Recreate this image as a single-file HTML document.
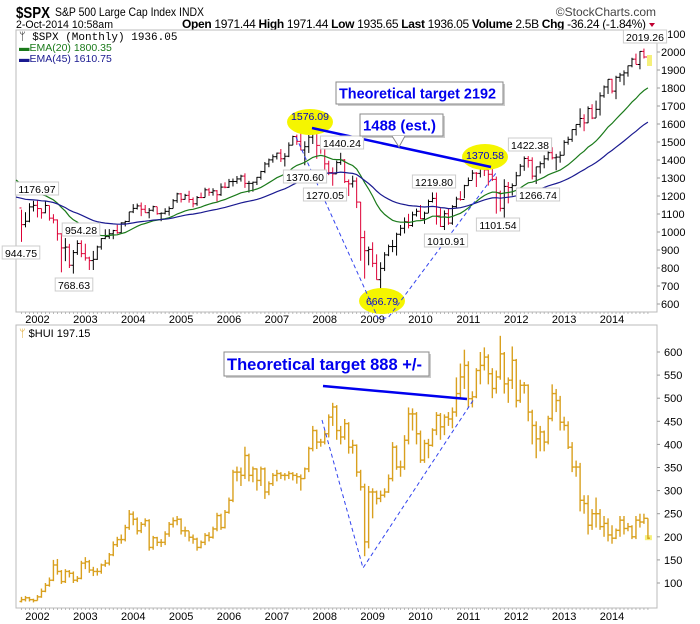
<!DOCTYPE html>
<html><head><meta charset="utf-8"><style>
html,body{margin:0;padding:0;background:#fff;}
svg{display:block;font-family:"Liberation Sans",sans-serif;}
</style></head><body>
<svg id="chart" width="700" height="624" viewBox="0 0 700 624" xmlns="http://www.w3.org/2000/svg">
<rect width="700" height="624" fill="#fff"/>
<g>
<text x="16" y="18" font-size="16" font-weight="bold" textLength="34" lengthAdjust="spacingAndGlyphs">$SPX</text>
<text x="55" y="16" font-size="12" textLength="149" lengthAdjust="spacingAndGlyphs">S&amp;P 500 Large Cap Index  INDX</text>
<text x="656" y="16" font-size="12" fill="#444" text-anchor="end">©StockCharts.com</text>
<text x="16" y="28" font-size="11" textLength="97" lengthAdjust="spacingAndGlyphs">2-Oct-2014 10:58am</text>
<text x="182" y="28" font-size="12" textLength="464"><tspan font-weight="bold">Open</tspan> 1971.44 <tspan font-weight="bold">High</tspan> 1971.44 <tspan font-weight="bold">Low</tspan> 1935.65 <tspan font-weight="bold">Last</tspan> 1936.05 <tspan font-weight="bold">Volume</tspan> 2.5B <tspan font-weight="bold">Chg</tspan> -36.24 (-1.84%)</text>
<path d="M649,23 L655,23 L652,27 Z" fill="#c00030"/>
</g>
<rect x="16" y="30" width="641" height="282" fill="none" stroke="#bbb"/>
<rect x="16" y="325" width="641" height="283" fill="none" stroke="#bbb"/>
<g id="axes"></g>
<g id="spx"></g>
<g id="hui"></g>
<g id="annot"></g>
</svg>
<script>
const years=["2002","2003","2004","2005","2006","2007","2008","2009","2010","2011","2012","2013","2014"];
const spxTicks=[600,700,800,900,1000,1100,1200,1300,1400,1500,1600,1700,1800,1900,2000,2100];
const huiTicks=[100,150,200,250,300,350,400,450,500,550,600];
const spxPrevClose=1133.58;
const spxClose=[1040.94,1059.78,1139.45,1148.08,
1130.20,1106.73,1147.39,1076.92,1067.14,989.82,911.62,916.07,815.28,885.76,936.31,879.82,
855.70,841.15,848.18,916.92,963.59,974.50,990.31,1008.01,995.97,1050.71,1058.20,1111.92,
1131.13,1144.94,1126.21,1107.30,1120.68,1140.84,1101.72,1104.24,1114.58,1130.20,1173.82,1211.92,
1181.27,1203.60,1180.59,1156.85,1191.50,1191.33,1234.18,1220.33,1228.81,1207.01,1249.48,1248.29,
1280.08,1280.66,1294.83,1310.61,1270.09,1270.20,1276.66,1303.82,1335.85,1377.94,1400.63,1418.30,
1438.24,1406.82,1420.86,1482.37,1530.62,1503.35,1455.27,1473.99,1526.75,1549.38,1481.14,1468.36,
1378.55,1330.63,1322.70,1385.59,1400.38,1280.00,1267.38,1282.83,1166.36,968.75,896.24,903.25,
825.88,735.09,797.87,872.81,919.14,919.32,987.48,1020.62,1057.08,1036.19,1095.63,1115.10,
1073.87,1104.49,1169.43,1186.69,1089.41,1030.71,1101.60,1049.33,1141.20,1183.26,1180.55,1257.64,
1286.12,1327.22,1325.83,1363.61,1345.20,1320.64,1292.28,1218.89,1131.42,1253.30,1246.96,1257.60,
1312.41,1365.68,1408.47,1397.91,1310.33,1362.16,1379.32,1406.58,1440.67,1412.16,1416.18,1426.19,
1498.11,1514.68,1569.19,1597.57,1630.74,1606.28,1685.73,1632.97,1681.55,1756.54,1805.81,1848.36,
1782.59,1859.45,1872.34,1883.95,1923.57,1960.23,1930.67,2003.37,1972.29,1936.05];
const spxHigh=[1124,1110,1160,1173,
1177,1131,1173,1147,1099,1070,994,966,934,900,954,954,
935,863,895,924,966,1015,1016,1012,1040,1054,1063,1112,
1155,1158,1164,1150,1133,1146,1140,1109,1132,1142,1183,1218,
1217,1212,1229,1192,1200,1219,1246,1245,1243,1233,1270,1276,
1295,1297,1311,1318,1326,1284,1280,1306,1340,1389,1408,1431,
1441,1461,1438,1498,1535,1541,1556,1504,1539,1576,1545,1523,
1471,1396,1359,1397,1440,1405,1292,1313,1303,1167,1007,919,
943,876,832,888,930,956,996,1039,1081,1101,1113,1130,
1150,1113,1180,1220,1219,1132,1120,1130,1149,1196,1227,1262,
1303,1344,1333,1366,1371,1346,1357,1308,1230,1293,1278,1270,
1334,1378,1420,1422,1415,1363,1392,1426,1475,1471,1434,1448,
1510,1530,1570,1598,1687,1654,1698,1710,1730,1776,1814,1849,
1851,1868,1884,1898,1925,1968,1991,2005,2019,1971];
const spxLow=[945,1026,1054,1114,
1081,1074,1104,1063,1048,952,776,838,800,769,873,860,
841,789,789,845,902,960,962,960,990,994,1031,1055,
1105,1125,1088,1107,1076,1113,1096,1060,1098,1091,1131,1162,
1164,1180,1163,1137,1146,1188,1192,1201,1202,1169,1201,1243,
1245,1253,1268,1280,1245,1219,1224,1261,1290,1327,1360,1385,
1403,1389,1364,1416,1482,1484,1454,1371,1439,1489,1407,1435,
1270,1316,1257,1324,1373,1272,1200,1247,1133,840,741,815,
805,735,667,783,866,888,869,979,992,1020,1029,1086,
1071,1045,1106,1164,1041,1028,1011,1040,1040,1133,1174,1187,
1257,1290,1250,1303,1311,1258,1283,1102,1114,1075,1159,1202,
1258,1312,1340,1358,1292,1267,1325,1354,1397,1403,1343,1385,
1426,1485,1501,1536,1581,1560,1605,1627,1634,1647,1746,1767,
1770,1738,1834,1815,1863,1915,1931,1904,1964,1936];
const ema20Seed=1289;
const ema45Seed=1194;
const huiPrevClose=60;
const huiClose=[64,68,64,62,70,82,95,106,139,125,
103,125,121,106,110,143,146,128,125,125,
139,143,161,183,194,194,220,249,238,213,
227,235,177,198,188,188,206,227,235,238,
213,213,199,195,177,188,203,199,217,246,
220,253,279,340,340,333,376,333,347,322,
347,297,315,333,337,333,333,337,333,330,
326,347,391,430,405,405,423,459,481,430,
416,445,394,398,340,308,189,297,297,283,
290,297,326,394,351,351,409,466,466,423,
366,402,398,431,463,438,459,455,470,510,
546,571,499,503,560,571,589,553,521,546,
596,531,539,582,495,528,528,470,441,412,
427,405,456,510,495,448,441,394,351,351,
279,272,225,250,250,222,229,204,197,214,
236,218,222,200,236,232,240,197];
const huiHigh=[70,72,70,66,74,88,100,112,150,152,
128,130,128,125,115,148,156,150,135,132,
142,150,165,190,200,205,226,258,255,242,
232,240,238,202,200,195,212,232,242,245,
240,222,212,205,198,192,208,210,222,252,
250,258,285,345,352,350,395,380,352,348,
352,350,320,338,345,340,338,342,340,338,
335,350,395,440,432,412,430,465,490,485,
440,455,448,410,400,345,315,310,305,300,
300,305,335,405,398,365,420,480,478,470,
430,410,412,435,470,468,465,470,480,545,
575,605,580,515,565,600,610,595,565,560,
635,600,545,612,585,540,535,530,475,450,
440,430,462,530,520,505,460,450,405,365,
360,290,290,260,285,260,245,240,225,218,
245,245,230,225,245,250,250,240];
const huiLow=[58,60,60,58,62,68,80,92,104,118,
98,100,112,100,102,108,130,122,115,116,
120,135,138,158,178,185,190,215,225,205,
208,222,170,172,180,178,182,200,220,225,
205,200,190,185,170,175,182,190,196,212,
215,218,250,275,320,310,325,320,318,300,
310,282,290,310,320,325,322,325,322,315,
300,325,340,385,390,395,400,415,440,410,
400,410,380,380,330,300,158,175,240,270,
275,285,295,320,345,330,345,400,430,400,
360,360,370,395,420,410,420,440,435,460,
500,520,480,480,500,530,560,530,500,510,
540,510,490,520,480,490,510,450,400,370,
385,385,400,450,470,430,430,390,340,330,
255,250,205,215,220,215,200,190,185,195,
200,205,212,195,195,220,228,195];

const NS="http://www.w3.org/2000/svg";
function xm(i){return 21.5+i*3.99;}
function yS(v){return 34+(2100-v)*0.18;}
function yH(v){return 352+(600-v)*0.462;}
function mk(tag,attrs,parent,txt){const e=document.createElementNS(NS,tag);for(const k in attrs)e.setAttribute(k,attrs[k]);if(txt!==undefined)e.textContent=txt;parent.appendChild(e);return e;}

const axes=document.getElementById('axes');
years.forEach((y,k)=>{
  const x=xm(4+k*12);
  const t1=mk('text',{x:x,y:323,'font-size':11,'text-anchor':'middle'},axes,y);
  
  
  const t2=mk('text',{x:x,y:620,'font-size':11,'text-anchor':'middle'},axes,y);
  
  
});
for(let i=0;i<spxClose.length;i++){
  const x=xm(i);
  mk('line',{x1:x,x2:x,y1:312,y2:314,stroke:'#aaa','stroke-width':0.8},axes);
  mk('line',{x1:x,x2:x,y1:608,y2:610,stroke:'#aaa','stroke-width':0.8},axes);
}
spxTicks.forEach(v=>{
  const y=yS(v);
  mk('line',{x1:657,x2:660,y1:y,y2:y,stroke:'#999'},axes);
  const t=mk('text',{x:661,y:y+4,'font-size':11},axes,String(v));
  
  
});
huiTicks.forEach(v=>{
  const y=yH(v);
  mk('line',{x1:657,x2:660,y1:y,y2:y,stroke:'#999'},axes);
  const t=mk('text',{x:664,y:y+4,'font-size':11},axes,String(v));
  
  
});

const spx=document.getElementById('spx');
let e20=ema20Seed,e45=ema45Seed;
let p20='M16,'+yS(e20),p45='M16,'+yS(e45);
for(let i=0;i<spxClose.length;i++){
  const x=xm(i),o=i?spxClose[i-1]:spxPrevClose,c=spxClose[i];
  const col=c<o?'#dd0035':'#000';
  const g=mk('g',{stroke:col,'stroke-width':1},spx);
  
  
  mk('line',{x1:x,x2:x,y1:yS(spxHigh[i]),y2:yS(spxLow[i])},g);
  mk('line',{x1:x-2,x2:x,y1:yS(o),y2:yS(o)},g);
  mk('line',{x1:x,x2:x+2,y1:yS(c),y2:yS(c)},g);
  e20=e20+(c-e20)*2/21; e45=e45+(c-e45)*2/46;
  p20+=' L'+x+','+yS(e20).toFixed(1); p45+=' L'+x+','+yS(e45).toFixed(1);
}
const l20=mk('path',{d:p20,fill:'none',stroke:'#1a7a1a','stroke-width':1.2},spx);


const l45=mk('path',{d:p45,fill:'none',stroke:'#1a1a90','stroke-width':1.2},spx);



const hui=document.getElementById('hui');
const lastI=huiClose.length-1;
const hl=mk('rect',{x:xm(lastI)-3,y:yH(huiClose[lastI])-3,width:7,height:5,fill:'#f5f07a'},hui);


for(let i=0;i<huiClose.length;i++){
  const x=xm(i),o=i?huiClose[i-1]:huiPrevClose,c=huiClose[i];
  const g=mk('g',{stroke:'#d9a01e','stroke-width':1.4},hui);
  
  
  mk('line',{x1:x,x2:x,y1:yH(huiHigh[i]),y2:yH(huiLow[i])},g);
  mk('line',{x1:x-2,x2:x,y1:yH(o),y2:yH(o)},g);
  mk('line',{x1:x,x2:x+2,y1:yH(c),y2:yH(c)},g);
}
</script>
<script>
(function(){
const A=document.getElementById('annot');
function mk(tag,attrs,txt){const e=document.createElementNS("http://www.w3.org/2000/svg",tag);for(const k in attrs)e.setAttribute(k,attrs[k]);if(txt!==undefined)e.textContent=txt;A.appendChild(e);return e;}
let t=mk('text',{x:19,y:40,'font-size':11,'font-family':'Liberation Mono, monospace'},'ᛘ $SPX (Monthly) 1936.05');


t=mk('text',{x:19,y:51,'font-size':10.5,fill:'#1a7a1a'},'▬EMA(20) 1800.35');


t=mk('text',{x:19,y:62,'font-size':10.5,fill:'#1a1a90'},'▬EMA(45) 1610.75');


t=mk('text',{x:19,y:337,'font-size':11},'');
t.innerHTML='<tspan fill="#d9a01e">ᛘ</tspan> $HUI 197.15';


[[310,122],[382,301],[485,157]].forEach(p=>{
  const e=mk('ellipse',{cx:p[0],cy:p[1],rx:23,ry:13,fill:'#f5f500'});
  
  
});
mk('rect',{x:647,y:55,width:5,height:11,fill:'#f5f07a'});
let l=mk('line',{x1:312,y1:128,x2:491,y2:167,stroke:'#0000ee','stroke-width':2.5});


l=mk('polyline',{points:'296,137 378,318 388,318 496,173',fill:'none',stroke:'#3344ee','stroke-width':1,'stroke-dasharray':'4,3'});


l=mk('line',{x1:323,y1:386,x2:467,y2:399,stroke:'#0000ee','stroke-width':2.5});


l=mk('polyline',{points:'322,420 363,568 474,399',fill:'none',stroke:'#3344ee','stroke-width':1,'stroke-dasharray':'4,3'});


const labs=[['1176.97',37,189],['944.75',21,253],['954.28',81,230],['768.63',74,285],['1440.24',342,143],['1370.60',305,177],['1270.05',325,195],['1219.80',434,182],['1010.91',446,241],['1422.38',530,145],['1101.54',498,225],['1266.74',538,195],['2019.26',645,37]];
labs.forEach(a=>{
  const w=a[0].length*5.6+4;
  const r=mk('rect',{x:a[1]-w/2,y:a[2]-7,width:w,height:13,fill:'#fff',stroke:'#ccc'});
  
  
  const tx=mk('text',{x:a[1],y:a[2]+4,'font-size':10.5,'text-anchor':'middle'},a[0]);
  
  
});
[['1576.09',310,120],['666.79',382,305],['1370.58',485,159]].forEach(a=>{
  const tx=mk('text',{x:a[1],y:a[2],'font-size':10.5,'text-anchor':'middle',fill:'#0000cc'},a[0]);
  
  
});
function box(x,y,w,h,txt,fs,name){
  mk('rect',{x:x+2,y:y+2,width:w,height:h,fill:'#ccc'});
  const r=mk('rect',{x:x,y:y,width:w,height:h,fill:'#fff',stroke:'#888'});
  
  
  const tx=mk('text',{x:x+3,y:y+h/2+fs*0.36,'font-size':fs,'font-weight':'bold',fill:'#0000ee',textLength:w-10,lengthAdjust:'spacingAndGlyphs'},txt);
  
  
}
box(336,82,167,22,'Theoretical target 2192',15,'spx-target-callout');
box(360,114,83,22,'1488 (est.)',15,'estimate-callout');
mk('path',{d:'M392,136 L399,147 L405,136',fill:'#fff',stroke:'#888'});
box(224,352,205,24,'Theoretical target 888 +/-',17,'hui-target-callout');
})();
</script>
</body></html>
